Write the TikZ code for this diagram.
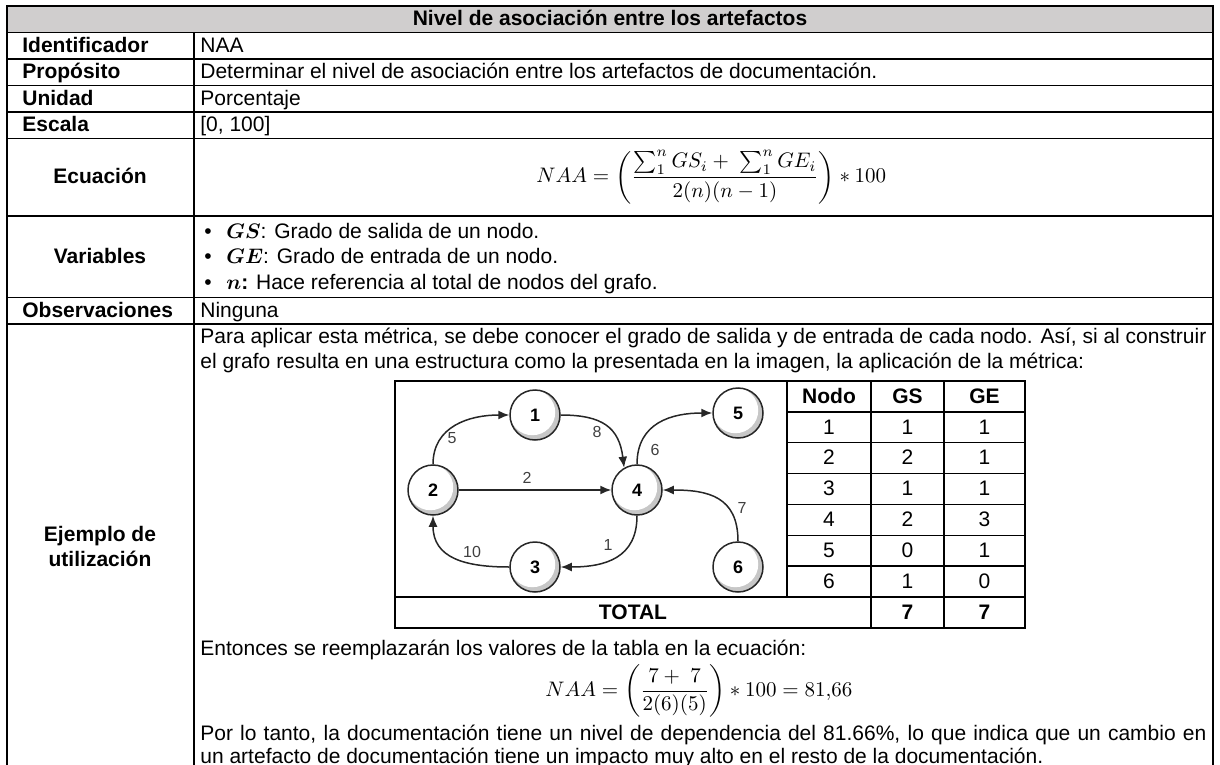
\RequirePackage{fix-cm}
\documentclass[tikz,border=0pt]{standalone}
\usepackage{amsmath,bm}
\usepackage{fontspec}
\setmainfont{Liberation Sans}
\usetikzlibrary{arrows.meta}
\definecolor{hdrgray}{RGB}{208,206,206}
\begin{document}
\begin{tikzpicture}[x=0.5pt,y=-0.5pt,
  font=\fontsize{10.5}{12.6}\selectfont,
  mainline/.style={line width=0.9pt},
  tabline/.style={line width=0.75pt},
  lbl/.style={inner sep=0pt, anchor=base west, font=\fontsize{10.5}{12.6}\selectfont\bfseries},
  clbl/.style={inner sep=0pt, anchor=base, font=\fontsize{10.5}{12.6}\selectfont\bfseries},
  txt/.style={inner sep=0pt, anchor=base west},
  ctxt/.style={inner sep=0pt, anchor=base},
  eqn/.style={inner sep=0pt, anchor=west},
  gnode/.style={circle, draw=black!85, line width=0.75pt, minimum size=25pt, inner sep=0pt,
    font=\fontsize{9}{10}\selectfont\bfseries, fill=white,
    path picture={\fill[black!22] (path picture bounding box.center) circle (12.5pt);
      \fill[white] ([xshift=-1.3pt,yshift=1.3pt]path picture bounding box.center) circle (11.4pt);}},
  gedge/.style={line width=0.75pt, draw=black!85, -{Latex[length=5.5pt,width=4.5pt]}},
  elab/.style={inner sep=0pt, font=\fontsize{8}{9}\selectfont, text=black!75}]
\useasboundingbox (0,0) rectangle (1220,765);
\clip (0,0) rectangle (1220,765);
% header
\fill[hdrgray] (7,6) rectangle (1213,32.5);
% main grid
\draw[mainline] (7,770) -- (7,6) -- (1213,6) -- (1213,770);
\draw[mainline] (194,32.5) -- (194,770);
\foreach \yy in {32.5,59,85.5,112,138.5,216,297.5,324}
  \draw[mainline] (7,\yy) -- (1213,\yy);
% texts
\node[clbl] (title) at (610,26) {Nivel de asociación entre los artefactos};
\node[lbl] (lid) at (22,52.5) {Identificador};
\node[txt] (vid) at (200,52.5) {NAA};
\node[lbl] (lprop) at (22,79) {Propósito};
\node[txt] (vprop) at (200,79) {Determinar el nivel de asociación entre los artefactos de documentación.};
\node[lbl] (luni) at (22,105.5) {Unidad};
\node[txt] (vuni) at (200,105.5) {Porcentaje};
\node[lbl] (lesc) at (22,132) {Escala};
\node[txt] (vesc) at (200,132) {[0, 100]};
\node[clbl] (lecu) at (100,184) {Ecuación};
\node[eqn] (vecu) at (536,177.25) {$\displaystyle NAA=\left(\frac{\sum\nolimits_1^n GS_i+\ \sum\nolimits_1^n GE_i}{2(n)(n-1)}\right)\ast 100$};
\node[clbl] (lvar) at (100,263.5) {Variables};
\node[txt] (b1) at (204,238.25) {\textbullet};
\node[txt] (v1) at (226,238.25) {$\bm{GS}$: Grado de salida de un nodo.};
\node[txt] (b2) at (204,263.75) {\textbullet};
\node[txt] (v2) at (226,263.75) {$\bm{GE}$: Grado de entrada de un nodo.};
\node[txt] (b3) at (204,289.25) {\textbullet};
\node[txt] (v3) at (226,289.25) {$\bm{n}$\textbf{:} Hace referencia al total de nodos del grafo.};
\node[lbl] (lobs) at (22,317.5) {Observaciones};
\node[txt] (vobs) at (200,317.5) {Ninguna};
\node[clbl] (lej1) at (100,541.75) {Ejemplo de};
\node[clbl] (lej2) at (100,566.75) {utilización};
\node[txt] (p1) at (200,343.75) {\makebox[503pt][s]{Para aplicar esta métrica, se debe conocer el grado de salida y de entrada de cada nodo. Así, si al construir}};
\node[txt] (p2) at (200,368.75) {el grafo resulta en una estructura como la presentada en la imagen, la aplicación de la métrica:};
% figure + table frame
\draw[tabline] (395,381) rectangle (1025,628);
\draw[tabline] (787,381) -- (787,597);
\draw[tabline] (871,381) -- (871,628);
\draw[tabline] (944,381) -- (944,628);
\draw[tabline] (395,597) -- (1025,597);
\foreach \k in {1,...,6}
  \draw[tabline] (787,{381+30.857*\k}) -- (1025,{381+30.857*\k});
\node[clbl] (hn) at (829,403.2) {Nodo};
\node[clbl] (hgs) at (907.5,403.2) {GS};
\node[clbl] (hge) at (984.5,403.2) {GE};
\foreach \n/\gs/\ge [count=\i] in {1/1/1,2/2/1,3/1/1,4/2/3,5/0/1,6/1/0} {
  \node[ctxt] (tn\i) at (829,{403.2+30.857*\i}) {\n};
  \node[ctxt] (tgs\i) at (907.5,{403.2+30.857*\i}) {\gs};
  \node[ctxt] (tge\i) at (984.5,{403.2+30.857*\i}) {\ge};
}
\node[clbl] (tot) at (633,619.3) {TOTAL};
\node[clbl] (totgs) at (907.5,619.3) {7};
\node[clbl] (totge) at (984.5,619.3) {7};
% graph
\node[gnode] (n1) at (535,415) {1};
\node[gnode] (n5) at (738,413) {5};
\node[gnode] (n2) at (433,490) {2};
\node[gnode] (n4) at (637,490) {4};
\node[gnode] (n3) at (535,567) {3};
\node[gnode] (n6) at (738,567) {6};
\draw[gedge] (n2.north) .. controls +(0,-38) and +(-40,0) .. (n1.west);
\draw[gedge] (n1.east) .. controls +(42,0) and +(-5,-40) .. (n4.120);
\draw[gedge] (n2.east) -- (n4.west);
\draw[gedge] (n4.north) .. controls +(0,-42) and +(-40,0) .. (n5.west);
\draw[gedge] (n6.north) .. controls +(0,-45) and +(45,0) .. (n4.east);
\draw[gedge] (n4.south) .. controls +(0,42) and +(45,0) .. (n3.east);
\draw[gedge] (n3.west) .. controls +(-45,0) and +(0,42) .. (n2.south);
\node[elab] (e5) at (452,438) {5};
\node[elab] (e8) at (597,432) {8};
\node[elab] (e2) at (527,478) {2};
\node[elab] (e6) at (655,450) {6};
\node[elab] (e7) at (742,508) {7};
\node[elab] (e1) at (608,545) {1};
\node[elab] (e10) at (472,552) {10};
% bottom
\node[txt] (ent) at (200,655.5) {Entonces se reemplazarán los valores de la tabla en la ecuación:};
\node[eqn] (eq2) at (545,691) {$\displaystyle NAA=\biggl(\frac{7+\ 7}{2(6)(5)}\biggr)\ast 100=81{,}66$};
\node[txt] (por1) at (200,740) {\makebox[503pt][s]{Por lo tanto, la documentación tiene un nivel de dependencia del 81.66\%, lo que indica que un cambio en}};
\node[txt] (por2) at (200,763.5) {un artefacto de documentación tiene un impacto muy alto en el resto de la documentación.};
\end{tikzpicture}
\end{document}
